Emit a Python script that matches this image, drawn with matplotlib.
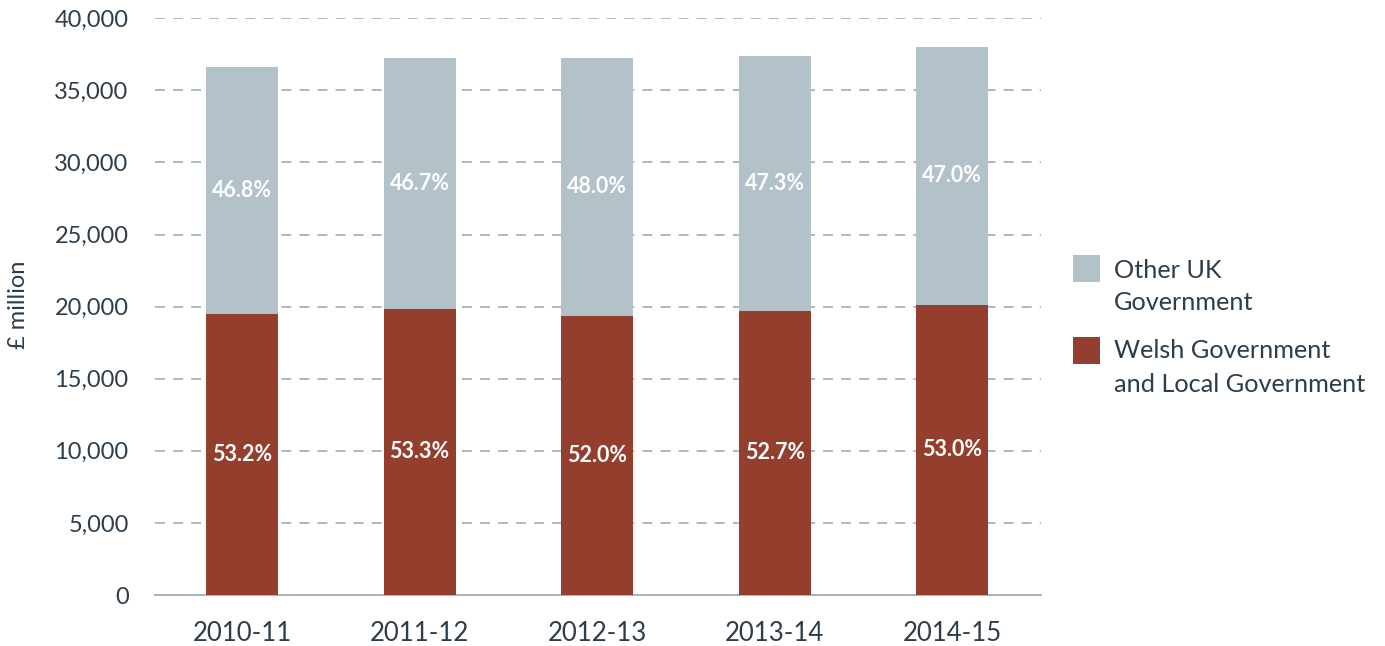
import matplotlib
matplotlib.use("Agg")
import matplotlib.pyplot as plt
from matplotlib.patches import Rectangle

years = ["2010-11", "2011-12", "2012-13", "2013-14", "2014-15"]
welsh = [19490, 19850, 19380, 19700, 20140]
other_uk = [17140, 17390, 17870, 17680, 17870]
welsh_pct = ["53.2%", "53.3%", "52.0%", "52.7%", "53.0%"]
other_pct = ["46.8%", "46.7%", "48.0%", "47.3%", "47.0%"]
yticks = [0, 5000, 10000, 15000, 20000, 25000, 30000, 35000, 40000]
legend_labels = [["Other UK", "Government"], ["Welsh Government", "and Local Government"]]

RED = "#943e2d"
GREY = "#b3c1c8"
TEXT = "#2c3e4c"
GRID = "#a3b3bf"

plt.rcParams['font.family'] = ['Lato', 'DejaVu Sans']

W, H = 1385, 646
fig = plt.figure(figsize=(W / 100, H / 100), dpi=100)
ax = fig.add_axes([155/W, 1-595/H, (1041-155)/W, (595-18.3)/H])

x = list(range(len(years)))
ax.bar(x, welsh, width=0.405, color=RED, zorder=3)
ax.bar(x, other_uk, width=0.405, bottom=welsh, color=GREY, zorder=3)

for i in x:
    ax.text(i, welsh[i] / 2, welsh_pct[i], ha="center", va="center",
            color="white", fontsize=15.5, fontweight="bold", zorder=4)
    ax.text(i, welsh[i] + other_uk[i] / 2, other_pct[i], ha="center", va="center",
            color="white", fontsize=15.5, fontweight="bold", zorder=4)

ax.set_xlim(-0.49, 4.5)
ax.set_ylim(0, 40000)
ax.set_yticks(yticks)
ax.set_yticklabels([f"{v:,}" for v in yticks])
ax.set_xticks(x)
ax.set_xticklabels(years)
ax.tick_params(axis="both", length=0, colors=TEXT)
ax.tick_params(axis="y", pad=19, labelsize=17)
ax.tick_params(axis="x", pad=19, labelsize=18.5)

for v in yticks[1:]:
    ax.axhline(v, color=GRID, lw=1.3, ls=(0, (5.5, 4.5)), zorder=1)

for s in ["top", "right", "left"]:
    ax.spines[s].set_visible(False)
ax.spines["bottom"].set_color("#9fadb7")
ax.spines["bottom"].set_linewidth(1.3)

fig.text(19/W, 1-305/H, "£ million", rotation=90, ha="center", va="center",
         fontsize=17, color=TEXT)

# legend drawn manually to match layout
patch_tops = [255, 337]
line_centers = [[269, 302], [350, 384]]
colors = [GREY, RED]
for k in range(2):
    fig.patches.append(Rectangle((1073/W, 1-(patch_tops[k]+27)/H), 27/W, 27/H,
                                 transform=fig.transFigure, facecolor=colors[k],
                                 edgecolor="none"))
    for line, yc in zip(legend_labels[k], line_centers[k]):
        fig.text(1114/W, 1-(yc+8.5)/H, line, ha="left", va="baseline",
                 fontsize=18.2, color=TEXT)

fig.savefig("out.png", dpi=100)
